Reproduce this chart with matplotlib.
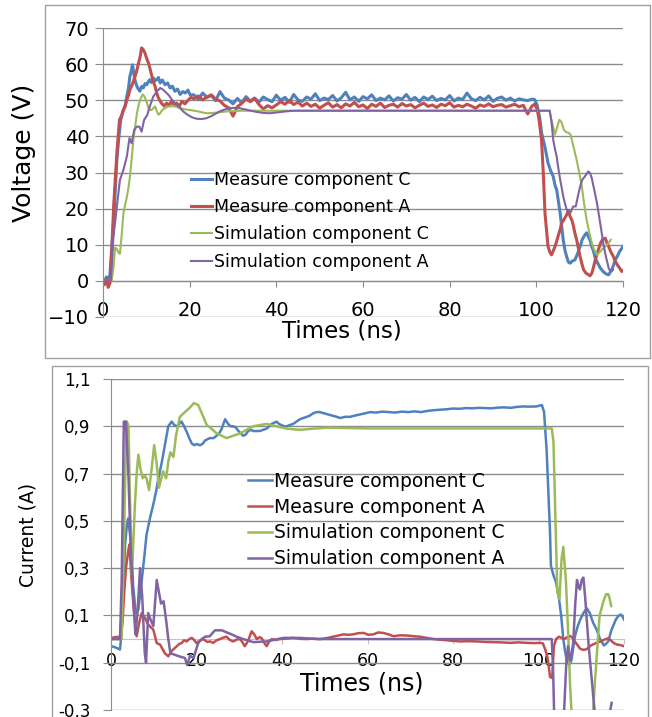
import matplotlib
matplotlib.use("Agg")
import matplotlib.pyplot as plt
import numpy as np
from matplotlib.patches import Rectangle
from matplotlib import font_manager

# ---------------- data: voltage (top panel) ----------------
# Measure component C
t_vmc_rise = [0, 0.4, 0.8, 1.2, 1.6, 2.2, 2.7, 3.2, 3.6, 4.1, 4.7, 5.1, 5.5, 5.9, 6.2,
              6.5, 6.8, 7.0, 7.2, 7.5, 7.8, 8.1, 8.5, 8.9, 9.3, 9.7, 10.1, 10.5, 10.8, 11.2,
              11.6, 12.0, 12.4, 12.8, 13.2, 13.7, 14.3, 14.9, 15.5, 16.0, 16.6, 17.2, 17.8,
              18.4, 19.0, 19.6, 20.1]
v_vmc_rise = [0.6, -0.8, 1.1, -0.4, 1.8, 12, 22, 33.5, 39, 44.6, 47.3, 48.5, 51, 53.5, 56.6,
              58, 59.8, 58.4, 56.6, 55, 53.9, 53.2, 52.5, 53.8, 53.4, 54.6, 54.3, 55.2, 55.7, 54.9,
              56.2, 55.4, 55.7, 56.3, 54.8, 55.6, 54.3, 54.8, 53.4, 53.9, 52.5, 53.1, 51.6,
              52.4, 52.0, 52.8, 51.5]
v_vmc_flat = [51.5, 50.2, 52.0, 50.8, 51.3, 49.9, 52.4, 50.6, 50.1, 49.0,
              50.5, 49.3, 51.0, 49.8, 50.6, 49.5, 50.9, 50.2, 49.6, 51.4,
              50.0, 50.8, 49.4, 51.6, 50.1, 49.7, 50.9, 50.3, 51.8, 49.9,
              50.6, 50.2, 51.3, 49.8, 50.7, 52.2, 50.1, 50.9, 49.7, 51.0,
              50.4, 51.5, 49.9, 50.6, 50.1, 51.2, 49.8, 50.7, 50.3, 51.6,
              50.0, 50.8, 49.6, 50.9, 50.2, 51.1, 49.9, 50.5, 50.1, 51.3,
              49.8, 50.6, 50.2, 52.0, 50.4, 49.9, 50.8, 50.1, 51.2, 49.7,
              50.5, 50.9, 50.0, 50.6, 49.8, 50.4, 50.1, 49.9, 50.3]  # t = 21 ... 99 ns
t_vmc_fall = [99.6, 100.2, 100.8, 101.2, 101.6, 102.0, 102.7, 103.3, 103.9, 104.3,
              104.7, 105.1, 105.5, 105.9, 106.2, 106.6, 107.0, 107.4, 107.8, 108.3,
              108.9, 109.5, 110.1, 110.6, 111.2, 111.6, 112.0, 112.4, 112.8, 113.2,
              113.6, 114.2, 114.8, 115.4, 115.9, 116.3, 116.7, 117.1, 117.4, 117.8,
              118.2, 118.7, 119.2, 119.6, 120.0]
v_vmc_fall = [50.2, 48.6, 45, 41, 39, 37, 32.6, 30.5, 28.9, 26.5,
              25.2, 22, 18.7, 14.5, 11.4, 8.5, 6.7, 5.2, 4.9, 5.5,
              5.8, 7.5, 9.5, 11.5, 12.7, 13.3, 12.3, 11.2, 9.5, 8.2,
              6.3, 4.8, 3.5, 2.6, 2.1, 1.8, 1.7, 2.5, 3.1, 4.3,
              5.8, 6.8, 8.1, 8.8, 9.5]

# Measure component A
t_vma_rise = [0, 0.4, 0.8, 1.2, 1.6, 2.0, 2.5, 3.2, 3.8, 4.3, 4.7, 5.1, 5.5, 5.9, 6.2,
              6.8, 7.4, 7.8, 8.2, 8.6, 8.9, 9.3, 9.7, 10.1, 10.5, 10.9, 11.2, 11.6, 12.0, 12.4,
              12.8, 13.2, 13.5, 14.1, 14.7, 15.2, 15.8, 16.4, 17.0, 17.6, 18.2, 18.9, 19.7, 20.3]
v_vma_rise = [0.3, -1.0, 0.5, -1.8, -0.6, 7.6, 21.6, 35.3, 44.6, 45.8, 47.3, 48.2, 50.1, 51.4, 52.9,
              54.5, 56.6, 58.2, 60.3, 62.2, 64.5, 64.0, 63.0, 61.5, 60.3, 58.5, 57.0, 55.2, 53.9, 52.0,
              50.6, 49.8, 49.2, 48.4, 49.2, 48.6, 49.7, 48.5, 49.2, 48.3, 49.7, 49.0, 50.1, 50.8]
v_vma_flat = [50.4, 51.2, 50.1, 50.9, 51.5, 50.3, 49.8, 48.6, 47.9, 45.6,
              48.2, 49.1, 50.3, 49.6, 50.5, 48.8, 47.6, 48.5, 47.9, 48.7,
              49.6, 48.9, 50.0, 48.8, 49.5, 48.4, 49.2, 48.3, 48.9, 47.8,
              48.6, 49.3, 48.1, 48.8, 47.9, 49.0, 48.4, 49.4, 48.2, 48.7,
              47.7, 48.9, 48.3, 49.2, 48.0, 48.6, 48.9, 48.1, 49.1, 48.4,
              48.8, 47.9, 48.6, 49.2, 48.3, 48.7, 48.0, 48.9, 48.5, 49.3,
              48.1, 48.6, 48.2, 48.9, 48.4, 47.8, 48.7, 48.3, 49.0, 48.2,
              48.6, 48.8, 48.1, 48.5, 48.9, 48.2, 48.6, 46.2, 48.4]  # t = 21 ... 99 ns
t_vma_fall = [99.6, 100.2, 100.7, 101.2, 101.6, 102.0, 102.4, 102.7, 103.1, 103.5,
              103.9, 104.3, 104.7, 105.1, 105.5, 105.8, 106.4, 107.0, 107.4, 107.8,
              108.2, 108.5, 108.9, 109.3, 109.7, 110.1, 110.5, 110.9, 111.4, 112.0,
              112.4, 112.8, 113.2, 113.6, 114.2, 114.8, 115.3, 115.9, 116.3, 116.7,
              117.2, 117.8, 118.2, 118.7, 119.2, 119.7, 120.0]
v_vma_fall = [48.9, 47.5, 44, 39, 30, 18.7, 13.5, 9.5, 8.0, 7.2,
              8.3, 9.5, 11.0, 12.7, 14.2, 15.9, 17.0, 18.3, 19.5, 17.8,
              16.8, 15.5, 13.2, 11.4, 9.0, 6.7, 4.8, 3.1, 2.2, 1.7,
              1.4, 2.1, 3.8, 5.8, 8.2, 10.4, 11.5, 11.8, 10.5, 9.5,
              8.0, 6.7, 5.5, 4.4, 3.6, 2.6, 2.8]

# Simulation component C
t_vsc = [0, 2.0, 2.4, 2.8, 3.2, 3.6, 3.9, 4.3, 4.7, 5.1, 5.5, 5.9, 6.2, 6.6, 7.0,
         7.4, 7.8, 8.2, 8.5, 8.9, 9.2, 9.5, 9.8, 10.2, 10.5, 10.9, 11.2, 11.6, 12.0, 12.4,
         12.8, 13.2, 13.5, 13.9, 14.3, 14.9, 15.5, 16.3, 17.0, 17.8, 18.5, 19.3, 20.1, 21.0, 22.0,
         23.0, 24.0, 25.5, 27.0, 28.5, 30.0, 32.0, 35.0, 50.0, 70.0, 90.0, 103.0, 103.6, 104.3, 104.8,
         105.3, 105.8, 106.3, 106.8, 107.4, 107.9, 108.2, 108.7, 109.3, 109.9,
         110.5, 111.0, 111.6, 112.2, 112.8, 113.4, 114.0, 114.5, 115.1, 115.7, 116.3, 116.8, 117.2]
v_vsc = [0, 0, 3.5, 9.2, 8.8, 7.8, 7.5, 12.5, 18.6, 21.0, 23.2, 26.0, 28.7, 33.5, 38.9,
         42.5, 46.2, 48.5, 49.9, 51.0, 51.6, 51.2, 50.4, 49.0, 47.8, 47.3, 47.3, 47.8, 48.3, 47.0,
         46.0, 46.4, 47.0, 47.5, 47.8, 48.2, 48.3, 48.4, 48.1, 47.9, 47.6, 47.4, 47.3, 47.1, 46.9,
         46.6, 46.4, 46.5, 46.7, 46.9, 47.0, 47.1, 47.1, 47.1, 47.1, 47.1, 47.1, 44.0, 40.5, 42.5,
         44.6, 44.0, 42.0, 41.2, 41.0, 40.5, 39.0, 36.5, 33.5, 30.0,
         26.1, 21.5, 16.9, 13.5, 10.4, 8.5, 7.2, 7.8, 8.6, 9.3, 10.0, 10.7, 11.4]

# Simulation component A
t_vsa = [0, 1.8, 2.4, 3.2, 3.9, 4.7, 5.5, 6.1, 6.6, 7.2, 7.8, 8.4, 8.9, 9.5, 10.2,
         10.8, 11.6, 12.4, 13.2, 13.9, 15.1, 16.2, 17.4, 18.5, 19.5, 20.5, 21.5, 22.7, 23.8, 24.8,
         25.9, 26.9, 28.0, 29.2, 30.4, 31.5, 32.7, 33.8, 35.3, 36.9, 38.5, 40.0, 42.0, 44.0, 70.0,
         103.1, 103.5, 103.9, 104.3, 104.7, 105.1, 105.5, 105.9, 106.2, 106.6,
         107.0, 107.4, 107.8, 108.2, 108.5, 109.1, 109.6, 110.1, 110.6, 111.2,
         111.6, 112.0, 112.4, 112.8, 113.4, 114.0, 114.6, 115.1, 115.5, 115.9,
         116.3, 116.7, 117.0, 117.3, 117.7]
v_vsa = [0, 0, 12.0, 20.6, 27.9, 30.7, 34.4, 39.5, 38.1, 41.8, 42.7, 42.7, 41.3, 44.6, 45.9,
         48.3, 51.0, 52.4, 53.4, 52.9, 51.5, 49.7, 48.3, 46.9, 46.0, 45.3, 44.9, 44.8, 45.0, 45.5,
         46.2, 46.9, 47.4, 47.8, 47.9, 47.8, 47.5, 47.2, 46.8, 46.5, 46.4, 46.6, 46.9, 47.1, 47.1,
         47.1, 44.0, 39.0, 36.5, 34.4, 31.0, 28.0, 25.5, 23.4, 21.5,
         19.7, 19.0, 18.7, 19.8, 20.6, 20.6, 23.5, 26.1, 28.0, 28.9,
         29.6, 30.3, 29.8, 28.4, 25.0, 21.5, 17.0, 13.2, 10.0, 7.6,
         5.5, 3.5, 2.8, 2.6, 3.1]

# ---------------- data: current (bottom panel) ----------------
t_imc = [0, 1.0, 2.1, 2.5, 2.9, 3.3, 3.7, 4.0, 4.6, 5.2, 5.8, 6.4, 7.2, 7.8, 8.3,
         9.1, 9.9, 10.5, 11.1, 11.9, 12.6, 13.4, 14.2, 14.8, 15.4, 16.0, 16.5, 17.1, 17.7, 18.3,
         18.9, 19.5, 20.0,
         20.8, 21.4, 22.0, 23.1, 24.0, 24.7, 25.3, 25.9, 26.7, 27.4, 28.0, 28.6, 29.2, 29.8,
         30.4, 30.9, 31.5, 32.1, 32.7, 33.3, 34.0, 34.8, 35.6, 36.4, 37.0, 37.6, 38.2, 38.7,
         39.3, 39.9, 40.5, 41.1, 41.8, 42.6, 43.4, 44.2, 45.0, 45.8, 46.5, 47.3, 48.1, 48.9,
         49.8, 50.8, 51.8, 52.8, 53.6, 54.8, 55.9, 57.0, 58.3, 59.5, 60.6, 62.0, 63.5, 65.0,
         66.5, 68.0, 69.5, 71.0, 72.5, 74.0, 75.5, 77.0, 78.5, 80.0, 81.5, 83.0, 84.5, 86.0,
         87.5, 89.0, 90.5, 92.0, 93.5, 95.0, 96.5, 98.0, 99.5, 100.8,
         101.3, 101.9, 102.3, 102.7, 102.9, 103.5, 104.1, 104.8, 105.3, 105.8,
         106.2, 106.6, 107.2, 107.7, 108.1, 108.5, 109.1, 109.7, 110.5, 111.3,
         112.0, 112.8, 113.6, 114.4, 115.3, 115.8, 116.3, 117.1, 118.1, 118.7,
         119.2, 119.6, 120.0]
i_imc = [-0.03, -0.035, -0.044, 0.03, 0.22, 0.4, 0.48, 0.51, 0.42, 0.22, 0.11, 0.125, 0.25, 0.35, 0.44,
         0.51, 0.57, 0.62, 0.68, 0.75, 0.82, 0.9, 0.92, 0.905, 0.9, 0.91, 0.92, 0.9, 0.877, 0.85,
         0.827, 0.82, 0.825,
         0.82, 0.825, 0.84, 0.85, 0.85, 0.86, 0.87, 0.89, 0.93, 0.91, 0.9, 0.9, 0.895, 0.88,
         0.87, 0.86, 0.865, 0.88, 0.885, 0.88, 0.88, 0.88, 0.885, 0.89, 0.9, 0.91, 0.915, 0.92,
         0.91, 0.905, 0.9, 0.9, 0.905, 0.91, 0.92, 0.93, 0.935, 0.94, 0.945, 0.955, 0.96, 0.96,
         0.955, 0.95, 0.945, 0.94, 0.935, 0.94, 0.94, 0.945, 0.95, 0.955, 0.96, 0.958, 0.962, 0.96,
         0.958, 0.962, 0.96, 0.963, 0.96, 0.965, 0.968, 0.97, 0.972, 0.975, 0.974, 0.977, 0.976, 0.978,
         0.977, 0.976, 0.979, 0.98, 0.978, 0.982, 0.984, 0.983, 0.984, 0.99,
         0.96, 0.8, 0.62, 0.45, 0.31, 0.27, 0.24, 0.17, 0.1, 0.0,
         -0.05, -0.09, -0.11, -0.09, -0.04, 0.01, 0.05, 0.08, 0.11, 0.13,
         0.11, 0.068, 0.04, 0.0, -0.027, -0.02, -0.01, 0.04, 0.083, 0.098,
         0.104, 0.097, 0.083]

t_ima = [0, 1.0, 2.1, 2.7, 3.1, 3.5, 4.0, 4.3, 4.8, 5.4, 6.0, 6.6, 7.2, 7.9, 8.7,
         9.3, 9.9, 10.7, 11.5, 12.0, 12.6, 13.4, 14.2, 14.8, 15.4, 16.0, 16.5, 17.1, 17.7, 18.3,
         18.9, 19.5, 20.0,
         21.0, 21.6, 22.5, 23.2, 23.9, 24.7, 25.5, 26.2, 27.0, 27.8, 28.6, 29.4, 30.2, 30.8, 31.3,
         32.0, 32.9, 33.5, 34.1, 34.7, 35.2, 35.8, 36.4, 37.0, 37.6, 38.5, 39.5, 41.0, 42.6, 44.2,
         45.8, 47.3, 48.9, 50.5, 52.0, 53.2, 54.4, 55.5, 56.7, 57.9, 59.1, 60.2, 61.4, 62.5, 63.7,
         64.9, 66.1, 67.6, 69.2, 70.8, 72.3, 73.8, 75.4, 77.0, 78.6, 80.2, 81.7, 83.6, 85.6, 87.5,
         89.5, 91.4, 93.4, 95.3, 97.3, 99.0, 100.4,
         101.0, 101.5, 102.0, 102.3, 102.7, 103.2, 103.6, 104.1, 104.8, 105.4,
         106.0, 106.7, 107.4, 108.0, 108.5, 109.1, 109.7, 110.3, 110.9, 111.5,
         112.0, 112.8, 113.6, 114.2, 114.8, 115.3, 115.8, 116.3, 116.7, 117.3,
         117.9, 118.5, 119.1, 119.6, 120.0]
i_ima = [0.005, 0.008, 0.01, 0.07, 0.2, 0.3, 0.37, 0.4, 0.25, 0.11, 0.012, 0.07, 0.11, 0.09, 0.062,
         0.05, 0.04, -0.017, -0.024, -0.04, -0.06, -0.073, -0.05, -0.04, -0.03, -0.02, -0.017, -0.005, -0.01, 0.0,
         0.005, -0.005, -0.017,
         -0.005, 0.0, -0.012, -0.01, -0.016, -0.005, 0.0, 0.006, 0.01, -0.004, -0.01, -0.002, 0.0, -0.015, -0.03,
         -0.01, 0.033, 0.02, 0.0, 0.008, 0.005, -0.015, -0.03, -0.01, 0.0, -0.004, 0.0, 0.002, 0.005, 0.001,
         0.0, 0.002, 0.0, 0.004, 0.01, 0.015, 0.02, 0.018, 0.02, 0.025, 0.026, 0.018, 0.02, 0.028, 0.026,
         0.02, 0.012, 0.016, 0.015, 0.012, 0.01, 0.005, 0.0, -0.003, -0.005, -0.008, -0.01, -0.009, -0.01, -0.012,
         -0.013, -0.014, -0.016, -0.014, -0.016, -0.017, -0.016,
         -0.018, -0.04, -0.07, -0.1, -0.16, -0.165, -0.03, 0.0, 0.01, 0.005,
         0.0, 0.008, 0.013, 0.005, -0.01, -0.025, -0.04, -0.045, -0.045, -0.04,
         -0.03, -0.022, -0.016, -0.012, -0.009, -0.003, 0.0, 0.003, -0.002, -0.012,
         -0.02, -0.024, -0.025, -0.028, -0.03]

t_isc = [0, 2.5, 3.0, 3.4, 3.7, 4.1, 4.4, 4.9, 5.2, 5.6, 6.0, 6.4, 6.9, 7.4, 7.9,
         8.3, 8.9, 9.5, 10.1, 10.7, 11.2, 11.9, 12.2, 12.9, 13.4, 13.9, 14.6, 15.2, 16.1, 17.3,
         18.5, 19.4, 20.4, 21.0, 21.6, 22.4, 23.5, 24.7, 25.9, 27.0, 28.6, 30.2, 31.7, 33.3, 34.8,
         36.4, 38.7, 41.1, 44.2, 47.3, 50.8, 60.0, 80.0, 103.1, 103.5, 104.0, 104.4, 104.9, 105.4, 105.8,
         106.4, 107.0, 107.4, 107.7, 108.5, 110.0, 111.5, 112.8, 113.2, 113.9,
         114.3, 115.2, 115.8, 116.3, 116.6, 117.0]
i_isc = [0, 0, 0.39, 0.75, 0.92, 0.9, 0.61, 0.27, 0.4, 0.57, 0.7, 0.78, 0.72, 0.68, 0.69,
         0.68, 0.63, 0.72, 0.82, 0.74, 0.64, 0.69, 0.71, 0.68, 0.75, 0.79, 0.77, 0.86, 0.94, 0.96,
         0.98, 0.998, 0.99, 0.965, 0.94, 0.905, 0.89, 0.87, 0.86, 0.85, 0.86, 0.87, 0.885, 0.9, 0.905,
         0.91, 0.9, 0.89, 0.885, 0.89, 0.894, 0.891, 0.891, 0.891, 0.835, 0.48, 0.2, 0.168, 0.34, 0.39,
         0.25, 0.0, -0.2, -0.3, -0.45, -0.6, -0.55, -0.3, -0.18, 0.0,
         0.1, 0.16, 0.19, 0.19, 0.175, 0.14]

t_isa = [0, 2.1, 2.5, 3.0, 3.5, 4.1, 4.6, 5.2, 5.7, 6.2, 6.8, 7.3, 7.9, 8.2, 8.7,
         9.3, 9.9, 10.7, 11.2, 11.7, 12.3, 12.9, 13.4, 13.9, 15.0, 16.1, 17.3, 17.8, 18.5, 19.3,
         20.4, 21.2, 22.0, 23.1, 24.3, 25.9, 27.8, 29.4, 30.9, 33.3, 36.4, 40.3, 44.2, 48.1, 60.0,
         80.0, 103.1, 103.4, 103.7, 104.5, 105.5, 106.0, 106.5, 106.9, 107.3,
         107.7, 108.1, 108.6, 109.0, 109.4, 109.7, 110.1, 110.5, 110.9, 111.3,
         111.7, 112.1, 112.6, 113.2, 114.5, 116.0, 116.7, 117.1]
i_isa = [0, 0, 0.25, 0.92, 0.92, 0.68, 0.39, 0.18, 0.02, 0.11, 0.3, 0.18, -0.06, -0.1, 0.11,
         0.08, 0.055, 0.25, 0.2, 0.15, 0.16, 0.08, 0.0, -0.06, -0.067, -0.074, -0.08, -0.11, -0.07, -0.08,
         -0.017, 0.0, 0.01, 0.012, 0.037, 0.037, 0.023, 0.01, 0.0, -0.013, -0.01, 0.005, 0.005, 0.0, 0.0,
         0.0, 0.0, -0.12, -0.35, -0.5, -0.45, -0.3, -0.1, -0.03, -0.09,
         -0.06, -0.02, 0.15, 0.25, 0.22, 0.21, 0.25, 0.26, 0.18, 0.08,
         -0.02, -0.1, -0.2, -0.32, -0.5, -0.45, -0.31, -0.27]

labels = ["Measure component C", "Measure component A",
          "Simulation component C", "Simulation component A"]
colors = ["#4F81BD", "#C0504D", "#9BBB59", "#8064A2"]

v_ticks = [-10, 0, 10, 20, 30, 40, 50, 60, 70]
i_ticks = [-0.3, -0.1, 0.1, 0.3, 0.5, 0.7, 0.9, 1.1]
i_tick_labels = ["-0,3", "-0,1", "0,1", "0,3", "0,5", "0,7", "0,9", "1,1"]
x_ticks = [0, 20, 40, 60, 80, 100, 120]

# assemble the measured voltage traces (flat part sampled every ns from 21 ns)
t_flat_c = 21 + np.arange(len(v_vmc_flat))
t_flat_a = 21 + np.arange(len(v_vma_flat))
t_vmc = np.concatenate([t_vmc_rise, t_flat_c, t_vmc_fall])
v_vmc = np.concatenate([v_vmc_rise, v_vmc_flat, v_vmc_fall])
t_vma = np.concatenate([t_vma_rise, t_flat_a, t_vma_fall])
v_vma = np.concatenate([v_vma_rise, v_vma_flat, v_vma_fall])

W, H = 652, 717
GRID = "#8c8c8c"

fig = plt.figure(figsize=(W / 100, H / 100), dpi=100)
fig.patch.set_facecolor("white")

def fx(px):
    return px / W

def fy(py):
    return 1 - py / H

# outer chart frames
fig.add_artist(Rectangle((fx(45), fy(358)), fx(650) - fx(45), fy(5) - fy(358),
                         transform=fig.transFigure, fill=False, ec="#a0a0a0", lw=1))
fig.add_artist(Rectangle((fx(52), -0.02), fx(648) - fx(52), fy(366) + 0.02,
                         transform=fig.transFigure, fill=False, ec="#a0a0a0", lw=1))

# ---------------- top panel ----------------
ax1 = fig.add_axes([fx(103), fy(317), fx(623) - fx(103), fy(28) - fy(317)])
ax1.plot(t_vmc, v_vmc, color=colors[0], lw=2.2, label=labels[0])
ax1.plot(t_vma, v_vma, color=colors[1], lw=2.2, label=labels[1])
ax1.plot(t_vsc, v_vsc, color=colors[2], lw=1.5, label=labels[2])
ax1.plot(t_vsa, v_vsa, color=colors[3], lw=1.5, label=labels[3])
ax1.set_xlim(0, 120)
ax1.set_ylim(-10, 70)
ax1.set_yticks(v_ticks)
ax1.set_xticks(x_ticks)

# ---------------- bottom panel ----------------
ax2 = fig.add_axes([fx(111), fy(710), fx(624) - fx(111), fy(379) - fy(710)])
ax2.plot(t_imc, i_imc, color=colors[0], lw=1.8, label=labels[0])
ax2.plot(t_ima, i_ima, color=colors[1], lw=1.8, label=labels[1])
ax2.plot(t_isc, i_isc, color=colors[2], lw=1.8, label=labels[2])
ax2.plot(t_isa, i_isa, color=colors[3], lw=1.8, label=labels[3])
ax2.set_xlim(0, 120)
ax2.set_ylim(-0.3, 1.1)
ax2.set_yticks(i_ticks, i_tick_labels)
ax2.set_xticks(x_ticks)

for ax, zero_col in ((ax1, GRID), (ax2, "#c4c4c4")):
    ax.set_facecolor("none")
    ax.grid(axis="y", color=GRID, lw=1.0)
    ax.set_axisbelow(True)
    for s in ("top", "right"):
        ax.spines[s].set_visible(False)
    ax.spines["left"].set_color(GRID)
    ax.spines["bottom"].set_position(("data", 0))
    ax.spines["bottom"].set_color(zero_col)
    ax.spines["bottom"].set_zorder(1.5)

ax1.tick_params(axis="y", length=5.8, width=0.8, color=GRID, pad=4, labelsize=14)
ax1.tick_params(axis="x", length=4.3, width=0.8, color=GRID, pad=10.5, labelsize=14)
ax2.tick_params(axis="y", length=5.8, width=0.8, color=GRID, pad=9, labelsize=12)
ax2.tick_params(axis="x", length=3.5, width=0.8, color="#c4c4c4", pad=6, labelsize=12.5)

# axis titles
fig.text(fx(342), fy(331), "Times (ns)", fontsize=16.5, ha="center", va="center")
fig.text(fx(24), fy(153), "Voltage (V)", fontsize=18, rotation=90, ha="center", va="center")
fig.text(fx(362), fy(684), "Times (ns)", fontsize=17, ha="center", va="center")

names = {f.name for f in font_manager.fontManager.ttflist}
if "Liberation Sans Narrow" in names:
    fig.text(fx(28), fy(535), "Current (A)", fontsize=17, family="Liberation Sans Narrow",
             rotation=90, ha="center", va="center")
else:
    fig.text(fx(28), fy(535), "Current (A)", fontsize=13.5, rotation=90, ha="center", va="center")

# legends (no frame, drawn over gridlines)
ax1.legend(loc="upper left", bbox_to_anchor=(fx(191), fy(171)), bbox_transform=fig.transFigure,
           frameon=False, fontsize=12.5, handlelength=1.2, handletextpad=0.1,
           labelspacing=0.53, borderpad=0, borderaxespad=0)
ax2.legend(loc="upper left", bbox_to_anchor=(fx(248), fy(472)), bbox_transform=fig.transFigure,
           frameon=False, fontsize=13.5, handlelength=1.28, handletextpad=0.1,
           labelspacing=0.36, borderpad=0, borderaxespad=0)

fig.savefig("out.png", dpi=100, facecolor="white")
